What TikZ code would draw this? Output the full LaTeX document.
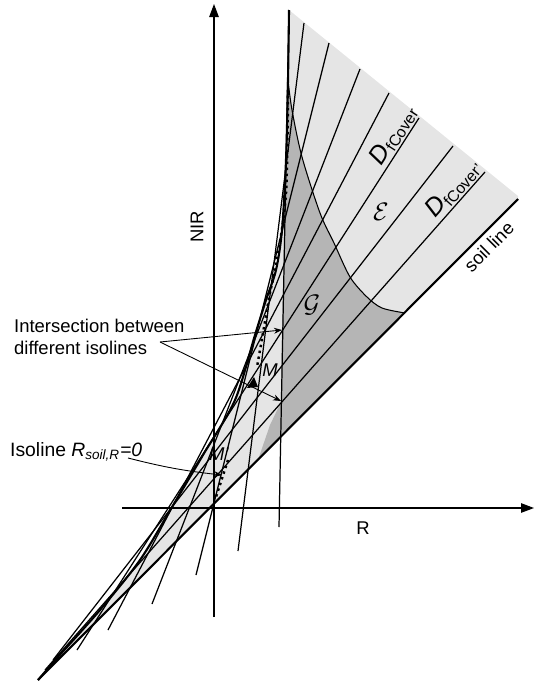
\documentclass[tikz,border=0pt]{standalone}
\usepackage{fontspec}
\setmainfont{Liberation Sans}
\usetikzlibrary{arrows.meta}
\definecolor{lightfill}{gray}{0.9}
\definecolor{darkfill}{gray}{0.71}
\begin{document}
\begin{tikzpicture}[x=0.2mm,y=-0.2mm,
  isoline/.style={line width=0.7pt},
  bound/.style={line width=1.2pt},
  axis/.style={line width=0.6pt,-{Triangle[length=2.6mm,width=1.9mm]}},
  pointer/.style={line width=0.5pt,-{Stealth[length=1.6mm,width=1.2mm]}},
  lbl/.style={font=\fontsize{10.5}{12.5}\selectfont}]
 \useasboundingbox (0,0) rectangle (534,682);
 % end points of the isolines
 \coordinate (t1) at (289,10);  \coordinate (b1) at (279,527);
 \coordinate (t2) at (304,23);  \coordinate (b2) at (238,551);
 \coordinate (t3) at (329,43);  \coordinate (b3) at (196,575);
 \coordinate (t4) at (360,69);  \coordinate (b4) at (152,604);
 \coordinate (t5) at (389,93);  \coordinate (b5) at (108,630);
 \coordinate (t6) at (419,118); \coordinate (b6) at (77,650);
 \coordinate (t7) at (453,146); \coordinate (b7) at (53,660);
 \coordinate (t8) at (485,172); \coordinate (b8) at (45,670);
 \coordinate (s0) at (38,680);  \coordinate (s1) at (518,199);
 \coordinate (corner) at (518,196);
 % grey domains
 \fill[lightfill] plot[smooth] coordinates {(38,680)(58,657)(100,610)(140,560)(172,507)(203,455)(235,400)(255,335)(266,300)(276,270)(282,230)(286,160)(288,80)(289,10)} -- (corner) -- (s1) -- cycle;
 \fill[darkfill] plot[smooth] coordinates {(288,80)(292,110)(302,157)(320,213)(334,243)(350,277)(367,297)(382,308)(405,313)} -- (258,460) -- (270,425) -- (281,402) -- (282,330) -- (285,200) -- cycle;
 \draw[line width=0.6pt] plot[smooth] coordinates {(288,80)(292,110)(302,157)(320,213)(334,243)(350,277)(367,297)(382,308)(405,313)};
 % axes
 \draw[axis] (214,617) -- (214,4);
 \draw[axis] (122,508) -- (534,508);
 \node[lbl,rotate=90] (nir) at (197,227) {NIR};
 \node[lbl] (rlab) at (363,528) {R};
 % isolines
 \draw[isoline] (b1) -- (t1);
 \draw[isoline] (b2) -- (t2);
 \draw[isoline] (b3) -- (t3);
 \draw[isoline] (b4) -- (t4);
 \draw[isoline] (b5) -- (t5);
 \draw[isoline] (b6) -- (t6) node[pos=0.955,sloped,above,inner sep=0.8pt] (dlab) {\textit{\Large D}\raisebox{-.4ex}{\small fCover}};
 \draw[isoline] (b7) -- (t7);
 \draw[isoline] (b8) -- (t8) node[pos=0.95,sloped,above,inner sep=0.8pt] (dlab2) {\textit{\Large D}\raisebox{-.4ex}{\small fCover'}};
 \draw[bound] (s0) -- (s1) node[pos=0.92,sloped,below,lbl,inner sep=3pt] (soil) {soil line};
 \draw[bound] plot[smooth] coordinates {(38,680)(58,657)(100,610)(140,560)(172,507)(203,455)(235,400)(255,335)(266,300)(276,270)(282,230)(286,160)(288,80)(289,10)};
 % points M and M'
 \draw[line width=1.4pt,dotted] plot[smooth] coordinates {(288,90)(286,193)(277,260)(270,293)(263,333)(257,367)};
 \draw[line width=1.4pt,dotted] (228,460) -- (216,497);
 \fill (247,388) -- (254,377) -- (258,387) -- cycle;
 \node[lbl] (m) at (270,370) {\textit{M}};
 \node[lbl] (mp) at (219,454) {\textit{M'}};
 \node[lbl] (eps) at (381,212) {\Large$\mathcal{E}$};
 \node[lbl] (gam) at (312,305) {\Large$\mathcal{G}$};
 % labels with pointers
 \node[lbl,align=left,anchor=west] (isect) at (8,337) {Intersection between\\different isolines};
 \coordinate (isfrom) at (160,342);
 \coordinate (x1) at (282,330);
 \coordinate (x2) at (281,401);
 \draw[pointer] (isfrom) -- (x1);
 \draw[pointer] (isfrom) -- (x2);
 \node[lbl,anchor=west,font=\fontsize{11}{13}\selectfont] (isol) at (4,452) {Isoline \textit{R}\textsubscript{\textit{soil,R}}\textit{=0}};
 \coordinate (isofrom) at (128,458);
 \coordinate (x3) at (222,475);
 \draw[pointer] (isofrom) to[bend right=4] (x3);
\end{tikzpicture}
\end{document}
